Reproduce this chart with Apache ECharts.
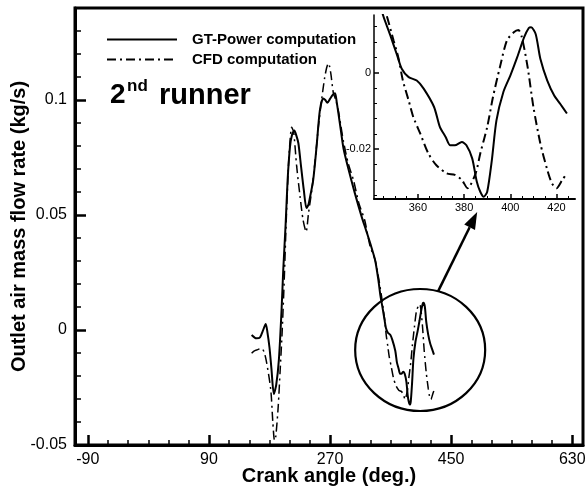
<!DOCTYPE html>
<html>
<head>
<meta charset="utf-8">
<script src="https://cdn.jsdelivr.net/npm/echarts@6/dist/echarts.min.js"></script>
<style>
  html, body { margin: 0; padding: 0; background: #fff; }
  #chart { width: 587px; height: 490px; }
</style>
</head>
<body>
<div id="chart"></div>
<script>
// Outlet air mass flow rate of the 2nd runner vs crank angle
const gtAngle = [153.5, 158, 161, 166, 170, 174.5, 177, 180, 183, 186.5, 190, 194, 198, 200.5, 204, 207, 210.5, 213.5, 217, 220, 223, 227, 231, 235, 238, 240, 245, 250, 255, 260, 263, 266, 270, 274, 277.5, 280, 282.5, 286, 290, 297, 307, 317, 324, 330, 337, 342, 345, 348, 351, 353, 356, 359.5, 362.5, 367, 369.5, 372, 374, 376, 379, 381, 383.5, 385.5, 387, 388.5, 390, 392, 394, 397, 400, 403, 406, 408, 409, 411, 413, 416, 419, 421.5, 424.5];
const gtFlow = [-0.0022, -0.0033, -0.0036, -0.0032, -0.0005, 0.0026, -0.001, -0.0075, -0.017, -0.0278, -0.024, -0.013, 0.0087, 0.0261, 0.0457, 0.0652, 0.0796, 0.0848, 0.0867, 0.0845, 0.0812, 0.071, 0.061, 0.053, 0.0545, 0.0573, 0.0652, 0.0797, 0.0957, 0.1007, 0.1, 0.0988, 0.1005, 0.1022, 0.1029, 0.099, 0.0942, 0.087, 0.079, 0.0704, 0.0594, 0.0493, 0.043, 0.0375, 0.0304, 0.0215, 0.0148, 0.0098, 0.0045, 0.001, -0.0012, -0.0021, -0.0042, -0.009, -0.0142, -0.0168, -0.019, -0.019, -0.0181, -0.019, -0.0224, -0.0285, -0.0311, -0.0324, -0.0311, -0.0229, -0.0125, -0.0051, -0.0008, 0.004, 0.0092, 0.0116, 0.0118, 0.01, 0.0036, -0.0021, -0.006, -0.0081, -0.0107];

const cfdAngle = [153.5, 157, 161, 168, 172, 176, 182, 185, 187.5, 189.5, 193, 196, 199, 202, 205, 208, 210.5, 213, 216, 220.5, 225.5, 230, 234.5, 238, 243, 248, 252.5, 257.5, 262, 265, 267.5, 269.5, 271.5, 275, 278, 282, 286, 290, 297, 305, 313, 321.5, 329.5, 337, 342, 346.5, 349.5, 351.5, 353.5, 356, 358, 361, 364.5, 368, 372.5, 376, 379, 381.5, 385, 387, 390, 392.5, 395.5, 398.5, 401.5, 403.5, 405, 407.5, 410, 413, 416, 418, 420, 422.5, 424.5];
const cfdFlow = [-0.0101, -0.0092, -0.0087, -0.008, -0.0095, -0.0145, -0.0261, -0.04, -0.048, -0.046, -0.0333, -0.017, 0.0, 0.022, 0.048, 0.07, 0.082, 0.0881, 0.086, 0.071, 0.058, 0.0478, 0.0427, 0.0507, 0.0609, 0.0739, 0.0878, 0.1, 0.1096, 0.114, 0.116, 0.1145, 0.1109, 0.103, 0.1005, 0.096, 0.089, 0.082, 0.0725, 0.065, 0.055, 0.0478, 0.0365, 0.0305, 0.023, 0.0148, 0.0083, 0.004, -0.0021, -0.0073, -0.0116, -0.0159, -0.0211, -0.0242, -0.0263, -0.0267, -0.028, -0.0302, -0.0263, -0.0211, -0.0142, -0.0064, 0.0014, 0.0083, 0.0105, 0.0111, 0.0092, 0.0014, -0.009, -0.0185, -0.0254, -0.0289, -0.0302, -0.028, -0.0263];

// Tick labels
const mainXTicks = [-90, 90, 270, 450, 630];
const mainYTicks = [-0.05, 0, 0.05, 0.1];
const insetXTicks = [360, 380, 400, 420];
const insetYTicks = [-0.02, 0];

const seriesNames = ['GT-Power computation', 'CFD computation'];

function steps(from, to, step, skip) {
  const out = [];
  for (let i = 0; from + i * step <= to + 1e-9; i++) {
    const v = +(from + i * step).toFixed(6);
    if (!skip.some(s => Math.abs(s - v) < 1e-9)) out.push(v);
  }
  return out;
}
const mainXMinor = steps(-90, 630, 30, mainXTicks);
const mainYMinor = steps(-0.05, 0.13, 0.01, mainYTicks);
const insetXMinor = steps(345, 425, 5, insetXTicks);
const insetYMinor = steps(-0.032, 0.012, 0.004, insetYTicks);

const pairs = (xs, ys) => xs.map((x, i) => [x, ys[i]]);
const gtData = pairs(gtAngle, gtFlow);
const cfdData = pairs(cfdAngle, cfdFlow);

const FONT = "'Liberation Sans', Arial, Helvetica, sans-serif";
const dashDot = [9, 4, 2, 4];

function majorAxis(gridIndex, position, min, max, ticks, opts) {
  return Object.assign({
    type: 'value', gridIndex, position, min, max,
    splitLine: { show: false },
    axisLine: { show: true, onZero: false, lineStyle: { color: '#000', width: opts.lineWidth } },
    axisTick: { show: true, inside: true, customValues: ticks, length: opts.tickLen, lineStyle: { color: '#000', width: opts.tickWidth } },
    axisLabel: { show: true, customValues: ticks, color: '#000', fontFamily: FONT, fontSize: opts.fontSize, margin: opts.margin,
      formatter: v => String(+v.toFixed(4)) }
  }, opts.extra || {});
}
function minorAxis(gridIndex, position, min, max, ticks, len, width) {
  return {
    type: 'value', gridIndex, position, min, max,
    splitLine: { show: false },
    axisLine: { show: false, onZero: false },
    axisTick: { show: true, inside: true, customValues: ticks, length: len, lineStyle: { color: '#000', width } },
    axisLabel: { show: false }
  };
}

const chart = echarts.init(document.getElementById('chart'), null, { renderer: 'canvas' });

const option = {
  animation: false,
  backgroundColor: '#fff',
  grid: [
    { left: 75, right: 4, top: 8, bottom: 45, outerBoundsMode: 'none', containLabel: false,
      show: true, borderColor: '#000', borderWidth: 3, backgroundColor: 'transparent' },
    { left: 374, right: 12, top: 15, bottom: 291, outerBoundsMode: 'none', containLabel: false, show: false }
  ],
  legend: {
    data: seriesNames,
    orient: 'vertical',
    left: 106, top: 32, padding: 0,
    itemWidth: 70, itemHeight: 14, itemGap: 5,
    selectedMode: false,
    itemStyle: { opacity: 0, color: 'transparent', borderWidth: 0 },
    textStyle: { color: '#000', fontFamily: FONT, fontWeight: 'bold', fontSize: 15, padding: [0, 0, 0, 10] }
  },
  xAxis: [
    majorAxis(0, 'bottom', -109, 646, mainXTicks, { lineWidth: 3, tickLen: 10, tickWidth: 2.5, fontSize: 16, margin: 7,
      extra: { name: 'Crank angle (deg.)', nameLocation: 'middle', nameGap: 21, nameMoveOverlap: false,
        nameTextStyle: { color: '#000', fontFamily: FONT, fontWeight: 'bold', fontSize: 20 } } }),
    minorAxis(0, 'bottom', -109, 646, mainXMinor, 5, 1.5),
    majorAxis(1, 'bottom', 341, 428, insetXTicks, { lineWidth: 2, tickLen: 5, tickWidth: 1.5, fontSize: 11, margin: 3 }),
    minorAxis(1, 'bottom', 341, 428, insetXMinor, 3, 1)
  ],
  yAxis: [
    majorAxis(0, 'left', -0.05, 0.14, mainYTicks, { lineWidth: 3, tickLen: 11, tickWidth: 2.5, fontSize: 16, margin: 8,
      extra: { name: 'Outlet air mass flow rate (kg/s)', nameLocation: 'middle', nameGap: 46, nameMoveOverlap: false,
        nameTextStyle: { color: '#000', fontFamily: FONT, fontWeight: 'bold', fontSize: 20 } } }),
    minorAxis(0, 'left', -0.05, 0.14, mainYMinor, 6, 1.5),
    majorAxis(1, 'left', -0.033, 0.015, insetYTicks, { lineWidth: 1.5, tickLen: 5, tickWidth: 1.5, fontSize: 11, margin: 3 }),
    minorAxis(1, 'left', -0.033, 0.015, insetYMinor, 3, 1)
  ],
  series: [
    { name: seriesNames[0], type: 'line', xAxisIndex: 0, yAxisIndex: 0, data: gtData, symbol: 'none', smooth: 0.25,
      lineStyle: { color: '#000', width: 2 }, itemStyle: { color: '#000' }, z: 3 },
    { name: seriesNames[1], type: 'line', xAxisIndex: 0, yAxisIndex: 0, data: cfdData, symbol: 'none', smooth: 0.25,
      lineStyle: { color: '#000', width: 1.5, type: dashDot }, itemStyle: { color: '#000' }, z: 2 },
    { name: seriesNames[0], type: 'line', xAxisIndex: 2, yAxisIndex: 2, data: gtData, symbol: 'none', smooth: 0.25, clip: true,
      lineStyle: { color: '#000', width: 2 }, itemStyle: { color: '#000' }, z: 3 },
    { name: seriesNames[1], type: 'line', xAxisIndex: 2, yAxisIndex: 2, data: cfdData, symbol: 'none', smooth: 0.25, clip: true,
      lineStyle: { color: '#000', width: 2, type: dashDot }, itemStyle: { color: '#000' }, z: 2 }
  ]
};
chart.setOption(option);

// Annotations: zoom ellipse around the late-cycle dip, arrow to the inset, runner label
const ellipseCenter = chart.convertToPixel({ gridIndex: 0 }, [404, -0.0087]);
const rx = 65, ry = 61;
const arrowTip = chart.convertToPixel({ gridIndex: 0 }, [488.7, 0.0513]);
const startAngle = Math.atan2(-59 / ry, 18 / rx);
const arrowStart = [ellipseCenter[0] + rx * Math.cos(startAngle), ellipseCenter[1] + ry * Math.sin(startAngle)];
const dx = arrowTip[0] - arrowStart[0], dy = arrowTip[1] - arrowStart[1];
const len = Math.hypot(dx, dy), ux = dx / len, uy = dy / len;
const headLen = 17, headHalf = 6;
const base = [arrowTip[0] - headLen * ux, arrowTip[1] - headLen * uy];

chart.setOption({
  graphic: [
    { type: 'ellipse', shape: { cx: ellipseCenter[0], cy: ellipseCenter[1], rx, ry },
      style: { fill: 'none', stroke: '#000', lineWidth: 2.2 }, z: 10 },
    { type: 'line', shape: { x1: arrowStart[0], y1: arrowStart[1], x2: base[0], y2: base[1] },
      style: { stroke: '#000', lineWidth: 2.5 }, z: 10 },
    { type: 'polygon', shape: { points: [
        arrowTip,
        [base[0] - headHalf * uy, base[1] + headHalf * ux],
        [base[0] + headHalf * uy, base[1] - headHalf * ux]
      ] }, style: { fill: '#000' }, z: 10 },
    { type: 'text', x: 110, y: 95.5, style: { text: '2', fill: '#000', font: "bold 28px " + FONT, verticalAlign: 'middle' }, z: 10 },
    { type: 'text', x: 127, y: 86.5, style: { text: 'nd', fill: '#000', font: "bold 17px " + FONT, verticalAlign: 'middle' }, z: 10 },
    { type: 'text', x: 159, y: 95.5, style: { text: 'runner', fill: '#000', font: "bold 29px " + FONT, verticalAlign: 'middle' }, z: 10 }
  ]
});
</script>
</body>
</html>
